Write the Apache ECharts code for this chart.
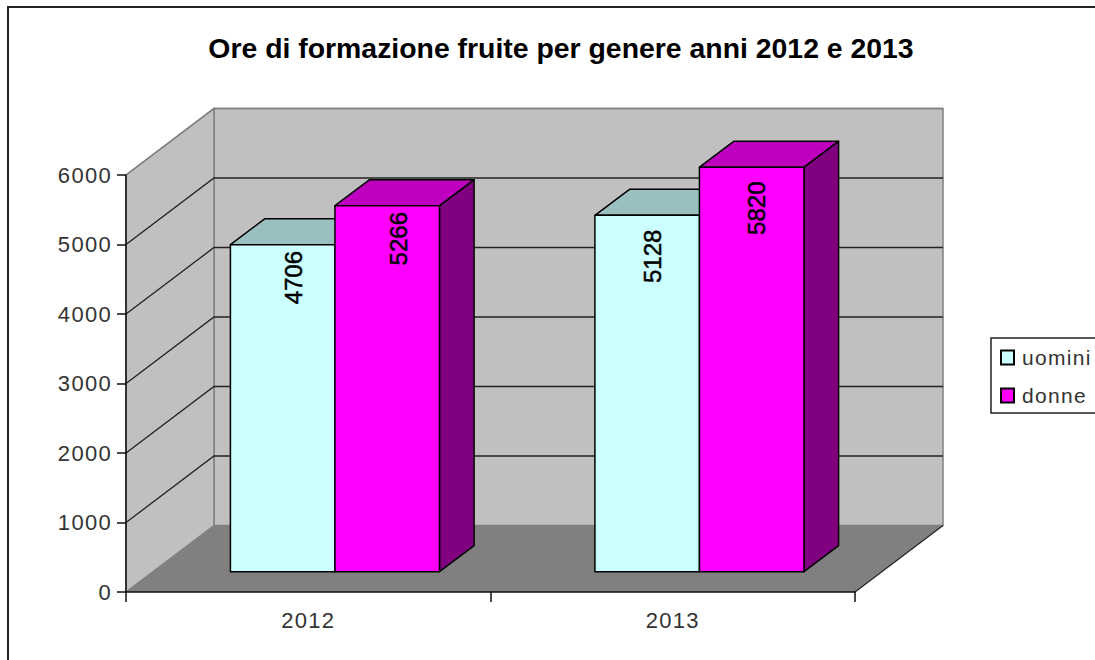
<!DOCTYPE html>
<html>
<head>
<meta charset="utf-8">
<script src="https://cdn.jsdelivr.net/npm/echarts@6/dist/echarts.min.js"></script>
<style>
  html, body { margin: 0; padding: 0; background: #fff; overflow: hidden; }
  #chart { width: 1095px; height: 660px; }
  /* the original has its axis and legend text slightly tracked */
  #chart text[style*="sans-serif"] { letter-spacing: 1.3px; }
</style>
</head>
<body>
<div id="chart"></div>
<script>
const titleText = "Ore di formazione fruite per genere anni 2012 e 2013";
const categories = ["2012", "2013"];
const uomini = [4706, 5128];
const donne = [5266, 5820];
const yTicks = [0, 1000, 2000, 3000, 4000, 5000, 6000];

// fake 3d: how far the back wall and the bar depth are pushed, in pixels
const wallDx = 88;
const wallDy = 66.5;
const barShiftX = 26.7;
const barShiftY = 20.3;
const barDx = 34.6;
const barDy = 26;
const barWidthRatio = 0.2868;
// rotated value labels sit differently in each group
const labelShiftX = [11, 5];
const labelDrop = [33, 41];

const trackedFont = '"Liberation Sans", sans-serif';

function renderWalls(params, api) {
  const cs = params.coordSys;
  const left = cs.x, right = cs.x + cs.width;
  const top = cs.y, bottom = cs.y + cs.height;
  const wallStyle = { fill: "#C0C0C0", stroke: "#808080", lineWidth: 1.5 };
  return {
    type: "group",
    children: [
      {
        type: "polygon",
        shape: { points: [[left + wallDx, top - wallDy], [right + wallDx, top - wallDy], [right + wallDx, bottom - wallDy], [left + wallDx, bottom - wallDy]] },
        style: wallStyle,
      },
      {
        type: "polygon",
        shape: { points: [[left, top], [left + wallDx, top - wallDy], [left + wallDx, bottom - wallDy], [left, bottom]] },
        style: wallStyle,
      },
      {
        type: "polygon",
        shape: { points: [[left, bottom], [left + wallDx, bottom - wallDy], [right + wallDx, bottom - wallDy], [right, bottom]] },
        style: { fill: "#808080" },
      },
      {
        type: "line",
        shape: { x1: right, y1: bottom, x2: right + wallDx, y2: bottom - wallDy },
        style: { stroke: "#222", lineWidth: 1.2 },
      },
    ],
  };
}

function renderGridLine(params, api) {
  const cs = params.coordSys;
  const value = api.value(1);
  if (value === 0) return null;
  const y = api.coord([0, value])[1];
  const x = cs.x;
  const isTop = value === yTicks[yTicks.length - 1];
  return {
    type: "polyline",
    shape: { points: [[x, y], [x + wallDx, y - wallDy], [x + cs.width + wallDx, y - wallDy]] },
    style: { fill: null, stroke: isTop ? "#808080" : "#222", lineWidth: isTop ? 1.5 : 1.3 },
  };
}

function makeBarRenderer(offset, front, topColor, sideColor) {
  return function (params, api) {
    const bandWidth = api.size([1, 0])[0];
    const w = bandWidth * barWidthRatio;
    const cat = api.value(0);
    const base = api.coord([cat, 0]);
    const head = api.coord([cat, api.value(1)]);
    const x0 = base[0] + barShiftX + offset * w;
    const x1 = x0 + w;
    const y0 = base[1] - barShiftY;
    const y1 = head[1] - barShiftY;
    const edge = { stroke: "#000", lineWidth: 1.5, lineJoin: "round" };
    return {
      type: "group",
      children: [
        {
          type: "polygon",
          shape: { points: [[x1, y0], [x1 + barDx, y0 - barDy], [x1 + barDx, y1 - barDy], [x1, y1]] },
          style: { fill: sideColor, ...edge },
        },
        {
          type: "polygon",
          shape: { points: [[x0, y1], [x0 + barDx, y1 - barDy], [x1 + barDx, y1 - barDy], [x1, y1]] },
          style: { fill: topColor, ...edge },
        },
        {
          type: "rect",
          shape: { x: x0, y: y1, width: w, height: y0 - y1 },
          style: { fill: front, ...edge },
        },
        {
          type: "text",
          x: x0 + w / 2 + labelShiftX[cat],
          y: y1 + labelDrop[cat],
          rotation: Math.PI / 2,
          style: {
            text: String(api.value(1)),
            font: '24px "Liberation Sans"',
            fill: "#000",
            stroke: "#000",
            lineWidth: 0.5,
            align: "center",
            verticalAlign: "middle",
          },
        },
      ],
    };
  };
}

const myChart = echarts.init(document.getElementById("chart"), null, { renderer: "svg" });
const option = {
  animation: false,
  backgroundColor: "#fff",
  title: {
    text: titleText,
    left: 556,
    top: 29,
    textAlign: "center",
    textStyle: { fontFamily: "Liberation Sans", fontSize: 28.4, fontWeight: "bold", color: "#000" },
  },
  graphic: [
    {
      type: "polyline",
      shape: { points: [[8, 660], [8, 7], [1095, 7]] },
      style: { fill: null, stroke: "#222", lineWidth: 2 },
    },
  ],
  legend: {
    orient: "vertical",
    left: 991,
    top: 338,
    padding: [9, 24, 7, 9],
    itemGap: 17,
    itemWidth: 13,
    itemHeight: 14,
    icon: "rect",
    borderColor: "#222",
    borderWidth: 1.5,
    selectedMode: false,
    data: ["uomini", "donne"],
    textStyle: { fontFamily: trackedFont, fontSize: 21, color: "#333", padding: [0, 0, 0, 3] },
  },
  grid: { left: 126, top: 175, width: 729, height: 417 },
  xAxis: {
    type: "category",
    data: categories,
    z: 10,
    axisLine: { lineStyle: { color: "#111", width: 1.5 } },
    axisTick: { show: true, length: 10, lineStyle: { color: "#111", width: 1.5 } },
    axisLabel: { fontFamily: trackedFont, fontSize: 22, color: "#333", margin: 17 },
    splitLine: { show: false },
  },
  yAxis: {
    type: "value",
    min: 0,
    max: 6000,
    interval: 1000,
    z: 10,
    axisLine: { show: true, lineStyle: { color: "#111", width: 1.5 } },
    axisTick: { show: true, length: 9, lineStyle: { color: "#111", width: 1.5 } },
    axisLabel: { fontFamily: trackedFont, fontSize: 22, color: "#333", margin: 14, formatter: (v) => String(v) },
    splitLine: { show: false },
  },
  series: [
    { type: "custom", name: "walls", silent: true, clip: false, z: 1, data: [[0, 0]], renderItem: renderWalls },
    { type: "custom", name: "griglia", silent: true, clip: false, z: 2, data: yTicks.map((t) => [0, t]), encode: { x: 0, y: 1 }, renderItem: renderGridLine },
    {
      type: "custom",
      name: "uomini",
      clip: false,
      z: 3,
      itemStyle: { color: "#CCFFFF", borderColor: "#000", borderWidth: 1.5 },
      data: categories.map((c, i) => [i, uomini[i]]),
      encode: { x: 0, y: 1 },
      renderItem: makeBarRenderer(-1, "#CCFFFF", "#99BFBF", "#668080"),
    },
    {
      type: "custom",
      name: "donne",
      clip: false,
      z: 4,
      itemStyle: { color: "#FF00FF", borderColor: "#000", borderWidth: 1.5 },
      data: categories.map((c, i) => [i, donne[i]]),
      encode: { x: 0, y: 1 },
      renderItem: makeBarRenderer(0, "#FF00FF", "#BF00BF", "#800080"),
    },
  ],
};
myChart.setOption(option);
</script>
</body>
</html>
